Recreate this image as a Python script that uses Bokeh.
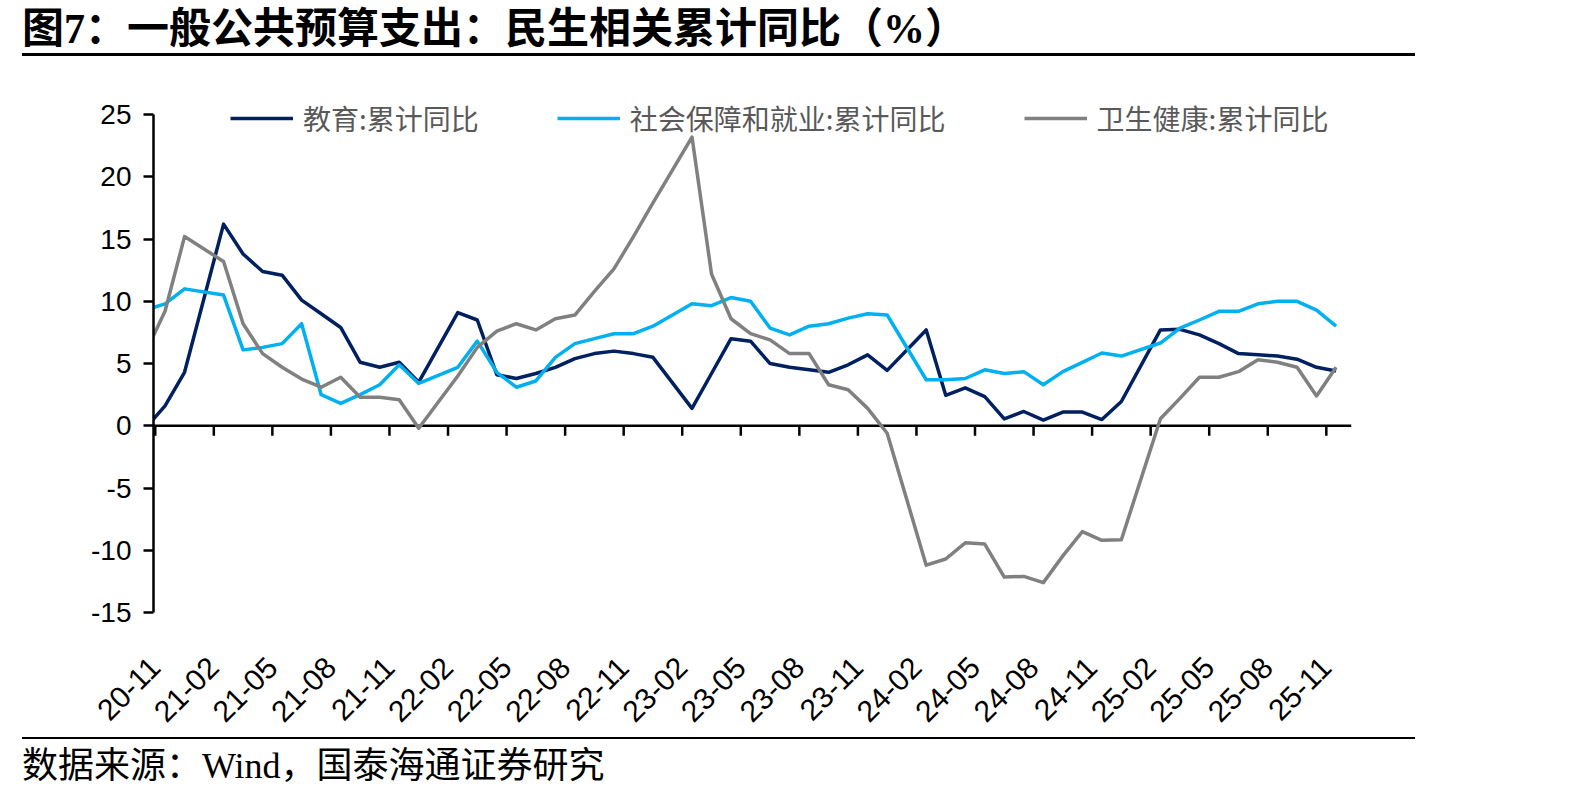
import math
from bokeh.plotting import figure
from bokeh.models import (ColumnDataSource, Legend, LegendItem, FixedTicker,
                          Span, Range1d, Div)
from bokeh.layouts import column
from bokeh.embed import file_html
from bokeh.resources import INLINE

# ---------------- data ----------------
months = [
    "2020-10", "2020-11", "2020-12",
    "2021-02", "2021-03", "2021-04", "2021-05", "2021-06", "2021-07", "2021-08",
    "2021-09", "2021-10", "2021-11", "2021-12",
    "2022-02", "2022-03", "2022-04", "2022-05", "2022-06", "2022-07", "2022-08",
    "2022-09", "2022-10", "2022-11", "2022-12",
    "2023-02", "2023-03", "2023-04", "2023-05", "2023-06", "2023-07", "2023-08",
    "2023-09", "2023-10", "2023-11", "2023-12",
    "2024-02", "2024-03", "2024-04", "2024-05", "2024-06", "2024-07", "2024-08",
    "2024-09", "2024-10", "2024-11", "2024-12",
    "2025-02", "2025-03", "2025-04", "2025-05", "2025-06", "2025-07", "2025-08",
    "2025-09", "2025-10", "2025-11",
]

education = [
    -0.2, 1.6, 4.3,
    16.2, 13.8, 12.4, 12.1, 10.1, 9.0, 7.9, 5.1, 4.7, 5.1, 3.5,
    9.1, 8.5, 4.1, 3.8, 4.2, 4.7, 5.4, 5.8, 6.0, 5.8, 5.5,
    1.4, 4.2, 7.0, 6.8, 5.0, 4.7, 4.5, 4.3, 4.9, 5.7, 4.45,
    7.7, 2.45, 3.05, 2.35, 0.55, 1.15, 0.45, 1.1, 1.1, 0.5, 1.95,
    7.7, 7.75, 7.3, 6.6, 5.8, 5.7, 5.6, 5.35, 4.7, 4.4,
]

social_security = [
    9.3, 9.8, 11.0,
    10.5, 6.1, 6.3, 6.6, 8.2, 2.5, 1.8, 2.5, 3.3, 4.9, 3.4,
    4.7, 6.8, 4.3, 3.1, 3.6, 5.5, 6.6, 7.0, 7.4, 7.4, 8.0,
    9.8, 9.65, 10.3, 10.0, 7.85, 7.3, 8.0, 8.2, 8.65, 9.0, 8.9,
    3.7, 3.7, 3.8, 4.5, 4.2, 4.35, 3.3, 4.35, 5.1, 5.85, 5.6,
    6.65, 7.85, 8.5, 9.2, 9.2, 9.8, 10.0, 10.0, 9.3, 8.0,
]

health = [
    5.9, 9.2, 15.2,
    13.2, 8.2, 5.8, 4.7, 3.75, 3.1, 3.9, 2.3, 2.3, 2.1, -0.2,
    4.0, 6.3, 7.6, 8.2, 7.7, 8.6, 8.9, 10.8, 12.6, 15.2, 17.9,
    23.2, 12.2, 8.6, 7.4, 6.9, 5.8, 5.8, 3.3, 2.9, 1.4, -0.6,
    -11.2, -10.7, -9.4, -9.5, -12.15, -12.1, -12.6, -10.45, -8.5, -9.2, -9.15,
    0.57, 2.2, 3.9, 3.9, 4.35, 5.3, 5.1, 4.7, 2.4, 4.7,
]

tick_labels = ["20-11", "21-02", "21-05", "21-08", "21-11", "22-02", "22-05",
               "22-08", "22-11", "23-02", "23-05", "23-08", "23-11", "24-02",
               "24-05", "24-08", "24-11", "25-02", "25-05", "25-08", "25-11"]
y_ticks = [-15, -10, -5, 0, 5, 10, 15, 20, 25]
y_tick_labels = ["-15", "-10", "-5", "0", "5", "10", "15", "20", "25"]

series_names = ["教育:累计同比", "社会保障和就业:累计同比", "卫生健康:累计同比"]
title_text = "图7：一般公共预算支出：民生相关累计同比（%）"
source_text = "数据来源：Wind，国泰海通证券研究"


# ------------- positions (months since 2020-11, data at mid-month) -------------
def month_pos(s):
    y, m = s.split("-")
    return (int(y) - 2020) * 12 + (int(m) - 11)


def label_pos(lbl):
    yy, mm = lbl.split("-")
    return month_pos("20%s-%s" % (yy, mm))


xs = [month_pos(m) + 0.5 for m in months]
tick_pos = [label_pos(t) for t in tick_labels]

src = ColumnDataSource(dict(x=xs, edu=education, soc=social_security, hea=health))

# ---------------- figure ----------------
# frame extends 2.5 units above the axis top so the legend is not clipped
p = figure(width=1594, height=680, output_backend="svg", toolbar_location=None,
           x_range=Range1d(-0.09, 61.29), y_range=Range1d(-15, 27.5),
           min_border_left=153, min_border_right=243,
           min_border_top=26, min_border_bottom=125)
p.outline_line_color = None
p.xgrid.visible = False
p.ygrid.visible = False
p.background_fill_color = "white"

# y axis
ya = p.yaxis[0]
ya.ticker = FixedTicker(ticks=y_ticks)
ya.bounds = (y_ticks[0], y_ticks[-1])
ya.major_label_overrides = {t: s for t, s in zip(y_ticks, y_tick_labels)}
ya.major_tick_out = 10
ya.major_tick_in = 0
ya.minor_tick_line_color = None
ya.axis_line_width = 2.5
ya.axis_line_color = "black"
ya.major_tick_line_width = 2.5
ya.major_tick_line_color = "black"
ya.major_label_text_font = "Liberation Sans"
ya.major_label_text_font_size = "28px"
ya.major_label_text_color = "black"
ya.major_label_standoff = 12

# x axis (labels only, at bottom)
xa = p.xaxis[0]
xa.ticker = FixedTicker(ticks=tick_pos)
xa.major_label_overrides = {tp: lbl for tp, lbl in zip(tick_pos, tick_labels)}
xa.axis_line_color = None
xa.major_tick_line_color = None
xa.minor_tick_line_color = None
xa.major_label_orientation = math.pi / 4
xa.major_label_text_font = "Liberation Sans"
xa.major_label_text_font_size = "30px"
xa.major_label_text_color = "black"
xa.major_label_standoff = 44

# zero line with ticks
zero = Span(location=0, dimension="width", line_color="black", line_width=2.5,
            level="underlay")
p.add_layout(zero)
p.segment(x0=tick_pos, y0=[0] * len(tick_pos), x1=tick_pos,
          y1=[-0.8] * len(tick_pos), line_color="black", line_width=2.5)

r1 = p.line("x", "edu", source=src, line_color="#002060", line_width=3.5,
            line_join="round")
r2 = p.line("x", "soc", source=src, line_color="#00B0F0", line_width=3.5,
            line_join="round")
r3 = p.line("x", "hea", source=src, line_color="#808080", line_width=3.5,
            line_join="round")

legend = Legend(
    items=[LegendItem(label=series_names[0], renderers=[r1]),
           LegendItem(label=series_names[1], renderers=[r2]),
           LegendItem(label=series_names[2], renderers=[r3])],
    orientation="horizontal", location=(77, 474),
    glyph_width=63, glyph_height=28, label_height=28, label_standoff=10,
    spacing=78, padding=0, margin=0,
    border_line_color=None, background_fill_alpha=0,
    label_text_font="Noto Sans CJK SC", label_text_font_size="28px",
    label_text_color="#595959")
p.add_layout(legend)

title_div = Div(
    text=('<div style="position:relative;width:1594px;height:57px;">'
          '<div style="position:absolute;left:22px;top:5px;'
          "font-family:'Liberation Serif','Noto Sans CJK SC';font-weight:bold;"
          'font-size:42px;line-height:48px;white-space:nowrap;color:#000;">'
          + title_text +
          '</div><div style="position:absolute;left:22px;top:53px;width:1393px;'
          'height:0;border-top:3px solid #000;"></div></div>'),
    width=1594, height=57, margin=0)

source_div = Div(
    text=('<div style="position:relative;width:1594px;height:60px;">'
          '<div style="position:absolute;left:22px;top:0px;width:1393px;'
          'height:0;border-top:2.5px solid #000;"></div>'
          '<div style="position:absolute;left:22px;top:9px;'
          "font-family:'Liberation Serif','Noto Sans CJK SC';"
          'font-size:36px;line-height:40px;white-space:nowrap;color:#000;">'
          + source_text + '</div></div>'),
    width=1594, height=60, margin=0)

layout = column(title_div, p, source_div, spacing=0)

with open("out.html", "w") as f:
    f.write(file_html(layout, INLINE))
